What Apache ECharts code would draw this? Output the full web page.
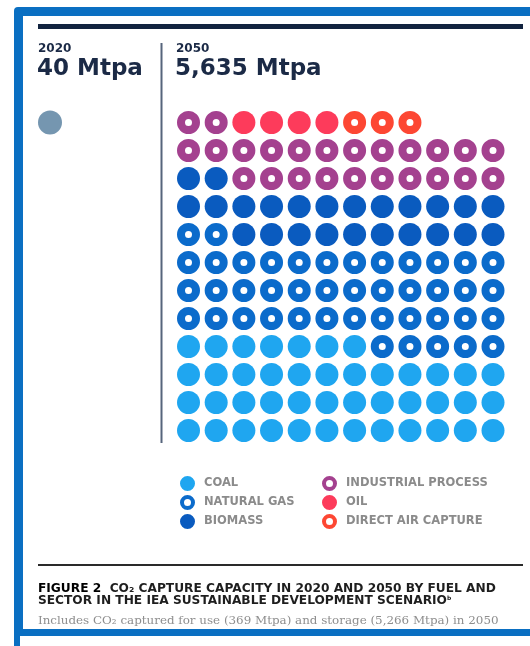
<!DOCTYPE html>
<html>
<head>
<meta charset="utf-8">
<script src="https://cdn.jsdelivr.net/npm/echarts@6/dist/echarts.min.js"></script>
<style>
html, body { margin: 0; padding: 0; background: #fff; }
#chart { width: 530px; height: 646px; }
</style>
</head>
<body>
<div id="chart"></div>
<script>
// one dot = 40 Mtpa
var categories = ['COAL', 'NATURAL GAS', 'BIOMASS', 'INDUSTRIAL PROCESS', 'OIL', 'DIRECT AIR CAPTURE'];
var dots2050 = [43, 43, 24, 24, 4, 3];
var hollow = [false, true, false, true, false, true];
var dots2020 = 1;
var perRow = 12;
var rowCount = 12;

var colors = ['#1fa6f0', '#0b6bcb', '#0a5bbf', '#a4418f', '#fd3b5b', '#fd4733'];
var grey2020 = '#7596b0';
var navy = '#1b2a46';

var chart = echarts.init(document.getElementById('chart'));

// 2050 dots fill from the bottom row, left to right
var series = [];
var idx = 0;
for (var c = 0; c < categories.length; c++) {
    var pts = [];
    for (var k = 0; k < dots2050[c]; k++) {
        pts.push([idx % perRow, Math.floor(idx / perRow)]);
        idx++;
    }
    series.push({
        type: 'scatter',
        name: categories[c],
        xAxisIndex: 0,
        yAxisIndex: 0,
        data: pts,
        symbol: 'circle',
        symbolSize: hollow[c] ? 15 : 23,
        itemStyle: hollow[c]
            ? { color: '#fff', borderColor: colors[c], borderWidth: 8, opacity: 1 }
            : { color: colors[c], opacity: 1 },
        silent: true
    });
}

// 2020 dots fill from the top row
var pts2020 = [];
for (var j = 0; j < dots2020; j++) {
    pts2020.push([j % perRow, rowCount - 1 - Math.floor(j / perRow)]);
}
series.push({
    type: 'scatter',
    name: '2020',
    xAxisIndex: 1,
    yAxisIndex: 1,
    data: pts2020,
    symbolSize: 24,
    itemStyle: { color: grey2020, opacity: 1 },
    silent: true
});

function legendItem(c) {
    return {
        name: categories[c],
        itemStyle: {
            color: hollow[c] ? '#fff' : colors[c],
            borderColor: colors[c],
            borderWidth: 4,
            opacity: 1
        }
    };
}

var legendText = {
    color: '#8b8b8b',
    fontFamily: 'DejaVu Sans',
    fontWeight: 'bold',
    fontSize: 11.5,
    lineHeight: 14,
    padding: [0, 0, 0, 6]
};

var hidden = { show: false };
function axis(n) {
    return { type: 'value', gridIndex: n, min: 0, max: rowCount - 1, show: false, splitLine: hidden };
}

var option = {
    animation: false,
    grid: [
        { left: 188.5, top: 122.5, width: 304.5, height: 308 },
        { left: 50, top: 122.5, width: 304.5, height: 308 }
    ],
    xAxis: [axis(0), axis(1)],
    yAxis: [axis(0), axis(1)],
    legend: [
        {
            orient: 'vertical', left: 180, top: 476, padding: 0,
            itemWidth: 11, itemHeight: 11, itemGap: 4,
            selectedMode: false,
            data: [legendItem(0), legendItem(1), legendItem(2)],
            textStyle: legendText
        },
        {
            orient: 'vertical', left: 322, top: 476, padding: 0,
            itemWidth: 11, itemHeight: 11, itemGap: 4,
            selectedMode: false,
            data: [legendItem(3), legendItem(4), legendItem(5)],
            textStyle: legendText
        }
    ],
    graphic: [
        // blue frame
        { type: 'rect', z: -10, shape: { x: 14, y: 7, width: 540, height: 629, r: [4, 0, 0, 0] }, style: { fill: '#0a6fc2' } },
        { type: 'rect', z: -9, shape: { x: 23, y: 16, width: 540, height: 613 }, style: { fill: '#fff' } },
        { type: 'rect', z: -9, shape: { x: 14, y: 636, width: 6, height: 12 }, style: { fill: '#0a6fc2' } },
        // rules
        { type: 'rect', z: -8, shape: { x: 38, y: 24, width: 485, height: 5 }, style: { fill: '#12233f' } },
        { type: 'rect', z: -8, shape: { x: 160.5, y: 43, width: 2, height: 400 }, style: { fill: '#56657c' } },
        { type: 'rect', z: -8, shape: { x: 38, y: 564, width: 485, height: 2 }, style: { fill: '#2a2a2a' } },
        // headers
        { type: 'text', x: 38, y: 43, style: { text: '2020', fill: navy, font: 'bold 12px "DejaVu Sans"', verticalAlign: 'top' } },
        { type: 'text', x: 37, y: 58, style: { text: '40 Mtpa', fill: navy, font: 'bold 23px "DejaVu Sans"', verticalAlign: 'top' } },
        { type: 'text', x: 176, y: 43, style: { text: '2050', fill: navy, font: 'bold 12px "DejaVu Sans"', verticalAlign: 'top' } },
        { type: 'text', x: 175, y: 58, style: { text: '5,635 Mtpa', fill: navy, font: 'bold 23px "DejaVu Sans"', verticalAlign: 'top' } },
        // caption
        {
            type: 'text', x: 38, y: 583,
            style: {
                text: '{f|FIGURE 2}  CO₂ CAPTURE CAPACITY IN 2020 AND 2050 BY FUEL AND\nSECTOR IN THE IEA SUSTAINABLE DEVELOPMENT SCENARIO{s|b}',
                fill: '#1e1e1e',
                font: 'bold 12.2px "DejaVu Sans"',
                lineHeight: 12,
                verticalAlign: 'top',
                rich: {
                    f: { fill: '#000', font: '900 12.2px "DejaVu Sans"', lineHeight: 12 },
                    s: { fill: '#1e1e1e', font: 'bold 6px "DejaVu Sans"', verticalAlign: 'top', lineHeight: 12 }
                }
            }
        },
        {
            type: 'text', x: 38, y: 615,
            style: {
                text: 'Includes CO₂ captured for use (369 Mtpa) and storage (5,266 Mtpa) in 2050',
                fill: '#8e8e8e',
                font: '11.9px "DejaVu Serif"',
                verticalAlign: 'top'
            }
        }
    ],
    series: series
};

chart.setOption(option);
</script>
</body>
</html>
